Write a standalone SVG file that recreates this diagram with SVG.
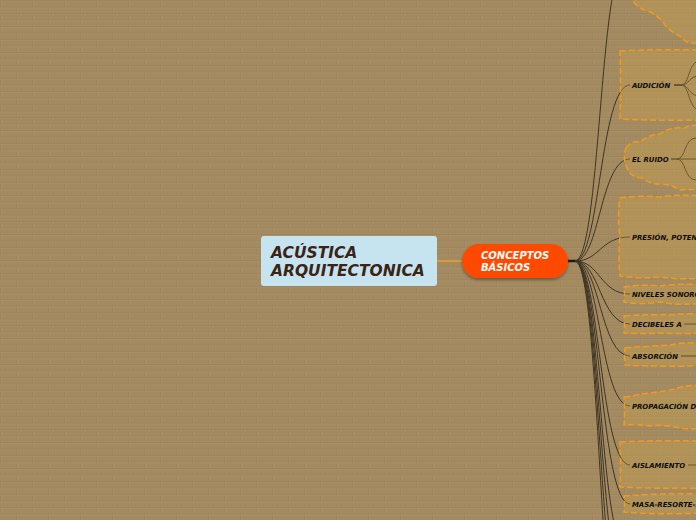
<svg xmlns="http://www.w3.org/2000/svg" width="696" height="520" viewBox="0 0 696 520">
<defs>
<pattern id="brick" width="32" height="13" patternUnits="userSpaceOnUse">
<rect width="32" height="13" fill="#a38a60"/>
<path d="M0,0.5H32M0,7H32M0.5,0V6.5M16.5,6.5V13" stroke="#9e865c" stroke-width="1" fill="none"/>
<path d="M0,1.5H32M0,8H32M1.5,1V6.5M17.5,7.5V13" stroke="#a88f65" stroke-width="0.8" fill="none"/>
</pattern>
<filter id="sh" x="-20%" y="-20%" width="140%" height="160%">
<feDropShadow dx="0" dy="2" stdDeviation="1.5" flood-color="#000" flood-opacity="0.35"/>
</filter>
</defs>
<style>
.box{fill:#d4a94a;fill-opacity:0.3;stroke:#f39a1c;stroke-width:1.5;stroke-dasharray:6 3}
.lbl{font-family:"DejaVu Sans",Verdana,sans-serif;font-weight:bold;font-style:italic;font-size:6.9px;fill:#0d0d0d}
.big{font-family:"DejaVu Sans",Verdana,sans-serif;font-weight:bold;font-style:italic;font-size:15.5px;fill:#3b2416}
.mid{font-family:"DejaVu Sans",Verdana,sans-serif;font-weight:bold;font-style:italic;font-size:10px;fill:#fff}
.con{fill:none;stroke:#3e3526;stroke-width:1}
.sub{fill:none;stroke:#3e3526;stroke-width:1}
</style>
<rect width="696" height="520" fill="url(#brick)"/>

<g id="connectors">
<line x1="437" y1="261" x2="462" y2="261" stroke="#e8a030" stroke-width="1.5"/>
<line x1="566" y1="261" x2="577" y2="261" stroke="#1e1a12" stroke-width="2.5"/>
<path class="con" d="M575,261C600,261 600,-35 625,-35"/>
<path class="con" d="M575,261C600,261 600,85 630,85"/>
<path class="con" d="M575,261C600,261 600,159 630,159"/>
<path class="con" d="M575,261C600,261 600,237 630,237"/>
<path class="con" d="M575,261C600,261 600,294 630,294"/>
<path class="con" d="M575,261C600,261 600,324 630,324"/>
<path class="con" d="M575,261C600,261 600,356 630,356"/>
<path class="con" d="M575,261C600,261 600,406 630,406"/>
<path class="con" d="M575,261C600,261 600,465 630,465"/>
<path class="con" d="M575,261C600,261 600,504 630,504"/>
<path class="con" d="M575,261C600,261 600,545 625,545"/>
<path class="con" d="M575,261C600,261 600,585 625,585"/>
<path class="con" d="M575,261C600,261 600,630 625,630"/>
<path class="con" d="M575,261C600,261 600,680 625,680"/>
<line x1="674" y1="85" x2="682" y2="85" stroke="#3e3526" stroke-width="2"/>
<path class="sub" d="M681,85C690,85 688,61 700,61"/>
<path class="sub" d="M681,85C690,85 688,76 700,76"/>
<path class="sub" d="M681,85C690,85 688,96 700,96"/>
<path class="sub" d="M681,85C690,85 688,110 700,110"/>
<line x1="671" y1="159" x2="678" y2="159" stroke="#3e3526" stroke-width="1.5"/>
<path class="sub" d="M677,159C686,159 684,138 696,138"/>
<path class="sub" d="M677,159H700"/>
<path class="sub" d="M677,159C686,159 684,180 696,180"/>
<line x1="684" y1="324" x2="700" y2="324" stroke="#3e3526" stroke-width="1"/>
<line x1="681" y1="356" x2="700" y2="356" stroke="#3e3526" stroke-width="1.2"/>
<line x1="688" y1="465" x2="700" y2="465" stroke="#3e3526" stroke-width="1"/>
</g>

<g id="root">
<rect x="261" y="236" width="176" height="50" rx="3" fill="#c6e4f0"/>
<text class="big" x="271" y="258">ACÚSTICA</text>
<text class="big" x="271" y="276">ARQUITECTONICA</text>
</g>

<g id="conceptos">
<rect x="462" y="244" width="106" height="34" rx="17" fill="#fe4a00" filter="url(#sh)"/>
<text class="mid" x="481" y="259">CONCEPTOS</text>
<text class="mid" x="481" y="271">BÁSICOS</text>
</g>

<g id="top-node">
<path class="box" d="M629,-6L632,0Q640,10 650,12Q660,17 665,25Q672,33 680,36Q686,44 696,43L702,43L702,-6Z"/>
</g>

<g id="audicion">
<path class="box" d="M620,51Q660,49 702,50L702,120Q660,121 620,119Q621,85 620,51Z"/>
<text class="lbl" x="632" y="87.5">AUDICIÓN</text>
</g>

<g id="el-ruido">
<path class="box" d="M626,148Q632,140 640,142Q650,134 660,134Q672,126 684,128Q690,124 702,126L702,190Q690,189 680,190Q670,184 660,184Q650,184 642,178Q632,178 628,170Q622,160 626,148Z"/>
<text class="lbl" x="632" y="161.5">EL RUIDO</text>
</g>

<g id="presion">
<path class="box" d="M620,198Q640,195 660,197Q680,194 702,196L702,278Q680,280 660,277Q640,279 620,276Q618,256 620,236Q617,216 620,198Z"/>
<text class="lbl" x="632" y="239.5">PRESIÓN, POTENCIA</text>
</g>

<g id="niveles">
<path class="box" d="M624,287Q640,284 660,286Q680,283 702,285L702,303Q680,306 660,302Q640,305 624,302Q625,294 624,287Z"/>
<text class="lbl" x="632" y="296.5">NIVELES SONOROS</text>
</g>

<g id="decibeles">
<path class="box" d="M624,316Q650,314 670,315Q685,313 702,314L702,333Q680,334 660,333Q640,334 624,333Q625,324 624,316Z"/>
<text class="lbl" x="632" y="326.5">DECIBELES A</text>
</g>

<g id="absorcion">
<path class="box" d="M625,348Q650,346 670,345Q685,342 702,343L702,365Q680,367 660,366Q640,366 625,365Q624,356 625,348Z"/>
<text class="lbl" x="632" y="358.5">ABSORCIÓN</text>
</g>

<g id="propagacion">
<path class="box" d="M624,397Q635,396 640,394Q660,392 675,389Q688,384 702,386L702,428Q690,430 680,428Q660,424 650,426Q635,424 624,425Q625,411 624,397Z"/>
<text class="lbl" x="632" y="408.5">PROPAGACIÓN DEL SONIDO</text>
</g>

<g id="aislamiento">
<path class="box" d="M620,442Q660,440 702,441L702,488Q660,489 620,487Q621,465 620,442Z"/>
<text class="lbl" x="632" y="467.5">AISLAMIENTO</text>
</g>

<g id="masa">
<path class="box" d="M624,496Q660,493 702,494L702,513Q660,515 624,512Q625,504 624,496Z"/>
<text class="lbl" x="632" y="506.5">MASA-RESORTE-MASA</text>
</g>
</svg>
